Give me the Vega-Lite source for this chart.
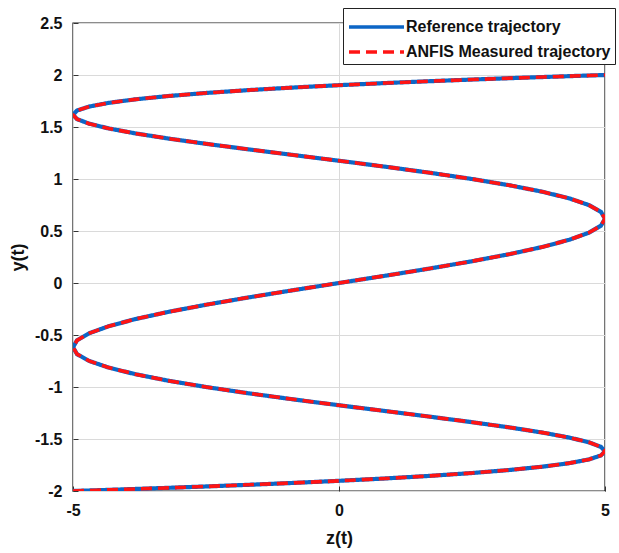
{
  "$schema": "https://vega.github.io/schema/vega-lite/v6.json",
  "width": 532,
  "height": 468,
  "autosize": {"type": "none"},
  "padding": {"left": 73, "top": 23, "right": 14, "bottom": 62},
  "background": "white",
  "data": {
    "values": [
      {"k": 0, "y": -2, "z": -5},
      {"k": 1, "y": -1.9988, "z": -4.924},
      {"k": 2, "y": -1.9951, "z": -4.698},
      {"k": 3, "y": -1.989, "z": -4.33},
      {"k": 4, "y": -1.9805, "z": -3.83},
      {"k": 5, "y": -1.9696, "z": -3.214},
      {"k": 6, "y": -1.9563, "z": -2.5},
      {"k": 7, "y": -1.9406, "z": -1.71},
      {"k": 8, "y": -1.9225, "z": -0.868},
      {"k": 9, "y": -1.9021, "z": 0},
      {"k": 10, "y": -1.8794, "z": 0.868},
      {"k": 11, "y": -1.8544, "z": 1.71},
      {"k": 12, "y": -1.8271, "z": 2.5},
      {"k": 13, "y": -1.7976, "z": 3.214},
      {"k": 14, "y": -1.7659, "z": 3.83},
      {"k": 15, "y": -1.7321, "z": 4.33},
      {"k": 16, "y": -1.6961, "z": 4.698},
      {"k": 17, "y": -1.6581, "z": 4.924},
      {"k": 18, "y": -1.618, "z": 5},
      {"k": 19, "y": -1.576, "z": 4.924},
      {"k": 20, "y": -1.5321, "z": 4.698},
      {"k": 21, "y": -1.4863, "z": 4.33},
      {"k": 22, "y": -1.4387, "z": 3.83},
      {"k": 23, "y": -1.3893, "z": 3.214},
      {"k": 24, "y": -1.3383, "z": 2.5},
      {"k": 25, "y": -1.2856, "z": 1.71},
      {"k": 26, "y": -1.2313, "z": 0.868},
      {"k": 27, "y": -1.1756, "z": 0},
      {"k": 28, "y": -1.1184, "z": -0.868},
      {"k": 29, "y": -1.0598, "z": -1.71},
      {"k": 30, "y": -1.0, "z": -2.5},
      {"k": 31, "y": -0.9389, "z": -3.214},
      {"k": 32, "y": -0.8767, "z": -3.83},
      {"k": 33, "y": -0.8135, "z": -4.33},
      {"k": 34, "y": -0.7492, "z": -4.698},
      {"k": 35, "y": -0.684, "z": -4.924},
      {"k": 36, "y": -0.618, "z": -5},
      {"k": 37, "y": -0.5513, "z": -4.924},
      {"k": 38, "y": -0.4838, "z": -4.698},
      {"k": 39, "y": -0.4158, "z": -4.33},
      {"k": 40, "y": -0.3473, "z": -3.83},
      {"k": 41, "y": -0.2783, "z": -3.214},
      {"k": 42, "y": -0.2091, "z": -2.5},
      {"k": 43, "y": -0.1395, "z": -1.71},
      {"k": 44, "y": -0.0698, "z": -0.868},
      {"k": 45, "y": 0, "z": 0},
      {"k": 46, "y": 0.0698, "z": 0.868},
      {"k": 47, "y": 0.1395, "z": 1.71},
      {"k": 48, "y": 0.2091, "z": 2.5},
      {"k": 49, "y": 0.2783, "z": 3.214},
      {"k": 50, "y": 0.3473, "z": 3.83},
      {"k": 51, "y": 0.4158, "z": 4.33},
      {"k": 52, "y": 0.4838, "z": 4.698},
      {"k": 53, "y": 0.5513, "z": 4.924},
      {"k": 54, "y": 0.618, "z": 5},
      {"k": 55, "y": 0.684, "z": 4.924},
      {"k": 56, "y": 0.7492, "z": 4.698},
      {"k": 57, "y": 0.8135, "z": 4.33},
      {"k": 58, "y": 0.8767, "z": 3.83},
      {"k": 59, "y": 0.9389, "z": 3.214},
      {"k": 60, "y": 1.0, "z": 2.5},
      {"k": 61, "y": 1.0598, "z": 1.71},
      {"k": 62, "y": 1.1184, "z": 0.868},
      {"k": 63, "y": 1.1756, "z": 0},
      {"k": 64, "y": 1.2313, "z": -0.868},
      {"k": 65, "y": 1.2856, "z": -1.71},
      {"k": 66, "y": 1.3383, "z": -2.5},
      {"k": 67, "y": 1.3893, "z": -3.214},
      {"k": 68, "y": 1.4387, "z": -3.83},
      {"k": 69, "y": 1.4863, "z": -4.33},
      {"k": 70, "y": 1.5321, "z": -4.698},
      {"k": 71, "y": 1.576, "z": -4.924},
      {"k": 72, "y": 1.618, "z": -5},
      {"k": 73, "y": 1.6581, "z": -4.924},
      {"k": 74, "y": 1.6961, "z": -4.698},
      {"k": 75, "y": 1.7321, "z": -4.33},
      {"k": 76, "y": 1.7659, "z": -3.83},
      {"k": 77, "y": 1.7976, "z": -3.214},
      {"k": 78, "y": 1.8271, "z": -2.5},
      {"k": 79, "y": 1.8544, "z": -1.71},
      {"k": 80, "y": 1.8794, "z": -0.868},
      {"k": 81, "y": 1.9021, "z": 0},
      {"k": 82, "y": 1.9225, "z": 0.868},
      {"k": 83, "y": 1.9406, "z": 1.71},
      {"k": 84, "y": 1.9563, "z": 2.5},
      {"k": 85, "y": 1.9696, "z": 3.214},
      {"k": 86, "y": 1.9805, "z": 3.83},
      {"k": 87, "y": 1.989, "z": 4.33},
      {"k": 88, "y": 1.9951, "z": 4.698},
      {"k": 89, "y": 1.9988, "z": 4.924},
      {"k": 90, "y": 2, "z": 5}
    ]
  },
  "encoding": {
    "x": {
      "field": "z",
      "type": "quantitative",
      "scale": {"domain": [-5, 5], "nice": false, "zero": false},
      "axis": {
        "title": "z(t)",
        "values": [-5, 0, 5],
        "labelExpr": "'' + datum.value",
        "labelPadding": 16,
        "titlePadding": 11
      }
    },
    "y": {
      "field": "y",
      "type": "quantitative",
      "scale": {"domain": [-2, 2.5], "nice": false, "zero": false},
      "axis": {
        "title": "y(t)",
        "values": [-2, -1.5, -1, -0.5, 0, 0.5, 1, 1.5, 2, 2.5],
        "labelExpr": "'' + datum.value",
        "labelPadding": 16,
        "titlePadding": 7
      }
    },
    "order": {"field": "k", "type": "quantitative"}
  },
  "layer": [
    {
      "mark": {"type": "line", "strokeWidth": 4.2, "clip": true},
      "encoding": {
        "color": {
          "datum": "Reference trajectory",
          "scale": {
            "domain": ["Reference trajectory", "ANFIS Measured trajectory"],
            "range": ["#0d66c6", "#ff1414"]
          }
        },
        "strokeDash": {
          "datum": "Reference trajectory",
          "scale": {
            "domain": ["Reference trajectory", "ANFIS Measured trajectory"],
            "range": [[1, 0], [11, 6]]
          }
        }
      }
    },
    {
      "mark": {"type": "line", "strokeWidth": 3.6, "clip": true},
      "encoding": {
        "color": {"datum": "ANFIS Measured trajectory"},
        "strokeDash": {"datum": "ANFIS Measured trajectory"}
      }
    }
  ],
  "resolve": {"scale": {"color": "shared", "strokeDash": "shared"}},
  "config": {
    "font": "Liberation Sans",
    "view": {"stroke": "#1a1a1a", "strokeWidth": 1.4},
    "axis": {
      "domain": false,
      "grid": true,
      "gridColor": "#dadada",
      "gridWidth": 1,
      "tickColor": "#333333",
      "tickSize": -5,
      "labelPadding": 13,
      "labelFont": "Liberation Sans",
      "labelFontSize": 16,
      "labelFontWeight": "bold",
      "labelColor": "#111111",
      "labelFlush": false,
      "labelOverlap": false,
      "titleFont": "Liberation Sans",
      "titleFontSize": 18,
      "titleFontWeight": "bold",
      "titleColor": "#111111"
    },
    "legend": {
      "orient": "none",
      "legendX": 270,
      "legendY": -15,
      "title": null,
      "strokeColor": "#222222",
      "fillColor": "white",
      "padding": 4,
      "rowPadding": 2,
      "symbolType": "M-1,0H3.23",
      "symbolSize": 676,
      "symbolStrokeWidth": 3.5,
      "labelFont": "Liberation Sans",
      "labelFontSize": 16,
      "labelFontWeight": "bold",
      "labelColor": "#111111",
      "labelOffset": 29,
      "labelLimit": 300
    }
  }
}
